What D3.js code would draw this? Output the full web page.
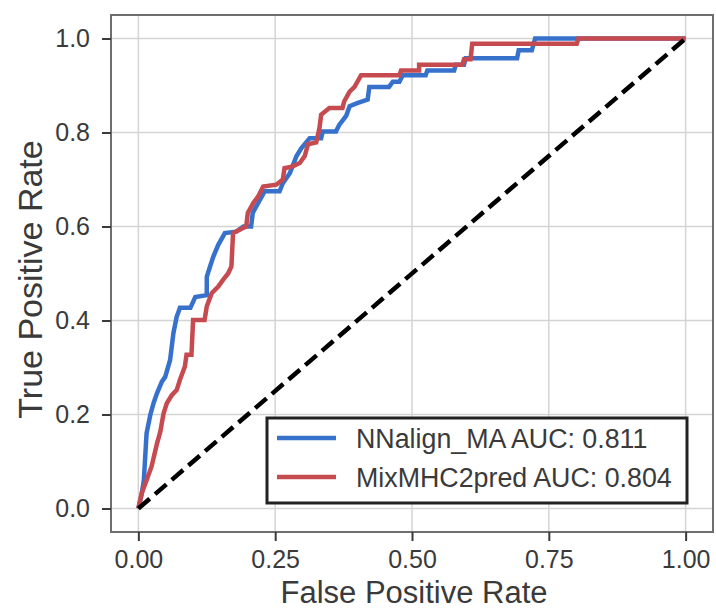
<!DOCTYPE html>
<html>
<head>
<meta charset="utf-8">
<script src="https://cdn.jsdelivr.net/npm/d3@7"></script>
<style>
  html, body { margin: 0; padding: 0; background: #fff; }
  svg { display: block; font-family: "Liberation Sans", Arial, sans-serif; }
</style>
</head>
<body>
<svg id="chart" width="716" height="610"></svg>
<script>
// ---- Data ----
const seriesNames = ["NNalign_MA AUC: 0.811", "MixMHC2pred AUC: 0.804"];
const xTicks = [0, 0.25, 0.5, 0.75, 1.0];
const yTicks = [0, 0.2, 0.4, 0.6, 0.8, 1.0];
const nnalignFpr = [0,0.006,0.01,0.013,0.015,0.022,0.028,0.034,0.043,0.049,0.058,0.064,0.07,0.076,0.095,0.104,0.125,0.125,0.131,0.137,0.146,0.158,0.179,0.192,0.206,0.209,0.219,0.231,0.258,0.264,0.277,0.289,0.298,0.313,0.334,0.337,0.361,0.367,0.38,0.386,0.401,0.419,0.422,0.458,0.465,0.477,0.483,0.525,0.528,0.577,0.58,0.595,0.598,0.692,0.695,0.719,0.725,1.0];
const nnalignTpr = [0,0.03,0.06,0.12,0.16,0.2,0.225,0.245,0.27,0.28,0.316,0.373,0.408,0.427,0.427,0.45,0.454,0.493,0.515,0.536,0.561,0.586,0.589,0.6,0.6,0.629,0.65,0.675,0.675,0.692,0.714,0.75,0.767,0.788,0.788,0.802,0.802,0.816,0.836,0.856,0.863,0.87,0.897,0.897,0.908,0.908,0.922,0.922,0.932,0.932,0.944,0.944,0.958,0.958,0.975,0.975,1.0,1.0];
const mixFpr = [0,0.006,0.015,0.024,0.034,0.04,0.046,0.052,0.061,0.07,0.076,0.085,0.088,0.097,0.1,0.121,0.125,0.134,0.146,0.155,0.164,0.17,0.173,0.185,0.197,0.2,0.21,0.219,0.228,0.252,0.264,0.267,0.282,0.295,0.304,0.31,0.325,0.331,0.334,0.349,0.373,0.376,0.386,0.395,0.407,0.477,0.48,0.513,0.513,0.592,0.595,0.607,0.61,0.801,0.804,1.0];
const mixTpr = [0,0.032,0.06,0.089,0.138,0.163,0.202,0.224,0.241,0.252,0.274,0.302,0.327,0.327,0.401,0.401,0.43,0.458,0.472,0.487,0.5,0.515,0.586,0.593,0.6,0.629,0.65,0.664,0.685,0.689,0.7,0.724,0.728,0.735,0.75,0.775,0.779,0.81,0.838,0.852,0.852,0.866,0.887,0.897,0.922,0.922,0.932,0.932,0.944,0.944,0.956,0.956,0.989,0.989,1.0,1.0];
const diagonal = [[0, 0], [1, 1]];
const colors = ["#3671cc", "#c64b51"];

// ---- Layout ----
const svg = d3.select("#chart");
const L = 111, R = 713, T = 15, B = 532;
const x = d3.scaleLinear().domain([-0.05, 1.05]).range([L, R]);
const y = d3.scaleLinear().domain([-0.05, 1.05]).range([B, T]);

svg.append("rect").attr("x", 0).attr("y", 0).attr("width", 716).attr("height", 610).attr("fill", "#fff");

// grid
const grid = svg.append("g");
grid.selectAll(".gx").data(xTicks).enter().append("line")
  .attr("x1", d => x(d)).attr("x2", d => x(d)).attr("y1", T).attr("y2", B)
  .attr("stroke", "#d4d4d4").attr("stroke-width", 1.5);
grid.selectAll(".gy").data(yTicks).enter().append("line")
  .attr("y1", d => y(d)).attr("y2", d => y(d)).attr("x1", L).attr("x2", R)
  .attr("stroke", "#d4d4d4").attr("stroke-width", 1.5);

// curves
const line = d3.line().x(d => x(d[0])).y(d => y(d[1]));
const nnPts = nnalignFpr.map((f, i) => [f, nnalignTpr[i]]);
const mixPts = mixFpr.map((f, i) => [f, mixTpr[i]]);
svg.append("path").datum(nnPts).attr("d", line).attr("fill", "none")
  .attr("stroke", colors[0]).attr("stroke-width", 4.5).attr("stroke-linejoin", "miter");
svg.append("path").datum(mixPts).attr("d", line).attr("fill", "none")
  .attr("stroke", colors[1]).attr("stroke-width", 4.5).attr("stroke-linejoin", "miter");
svg.append("path").datum(diagonal).attr("d", line).attr("fill", "none")
  .attr("stroke", "#000").attr("stroke-width", 4.5).attr("stroke-dasharray", "15,7");

// frame
svg.append("rect").attr("x", L).attr("y", T).attr("width", R - L).attr("height", B - T)
  .attr("fill", "none").attr("stroke", "#6e6e6e").attr("stroke-width", 2);

// axes
const xAxis = d3.axisBottom(x).tickValues(xTicks).tickFormat(d3.format(".2f")).tickSize(9).tickPadding(9);
const yAxis = d3.axisLeft(y).tickValues(yTicks).tickFormat(d3.format(".1f")).tickSize(9).tickPadding(12);
const gx = svg.append("g").attr("transform", `translate(0,${B})`).call(xAxis);
const gy = svg.append("g").attr("transform", `translate(${L},0)`).call(yAxis);
[gx, gy].forEach(g => {
  g.select(".domain").remove();
  g.selectAll(".tick line").attr("stroke", "#3a3a3a").attr("stroke-width", 2);
  g.selectAll(".tick text").attr("fill", "#3a3a3a").style("font-size", "25px")
    .style("font-family", "'Liberation Sans', Arial, sans-serif");
});

// axis labels
svg.append("text").attr("x", (L + R) / 2 + 2).attr("y", 603).attr("text-anchor", "middle")
  .attr("fill", "#3a3a3a").style("font-size", "31px").text("False Positive Rate");
svg.append("text").attr("transform", `translate(42,${(T + B) / 2 + 6}) rotate(-90)`)
  .attr("text-anchor", "middle").attr("fill", "#3a3a3a").style("font-size", "34px").text("True Positive Rate");

// legend
const lg = svg.append("g");
lg.append("rect").attr("x", 267).attr("y", 418).attr("width", 420).attr("height", 85)
  .attr("fill", "#fff").attr("stroke", "#222").attr("stroke-width", 3);
seriesNames.forEach((name, i) => {
  const cy = 438 + i * 39;
  lg.append("line").attr("x1", 277).attr("x2", 336).attr("y1", cy).attr("y2", cy)
    .attr("stroke", colors[i]).attr("stroke-width", 4.5);
  lg.append("text").attr("x", 356).attr("y", cy + 9.5).attr("fill", "#3a3a3a")
    .style("font-size", "26.8px").text(name);
});
</script>
</body>
</html>
